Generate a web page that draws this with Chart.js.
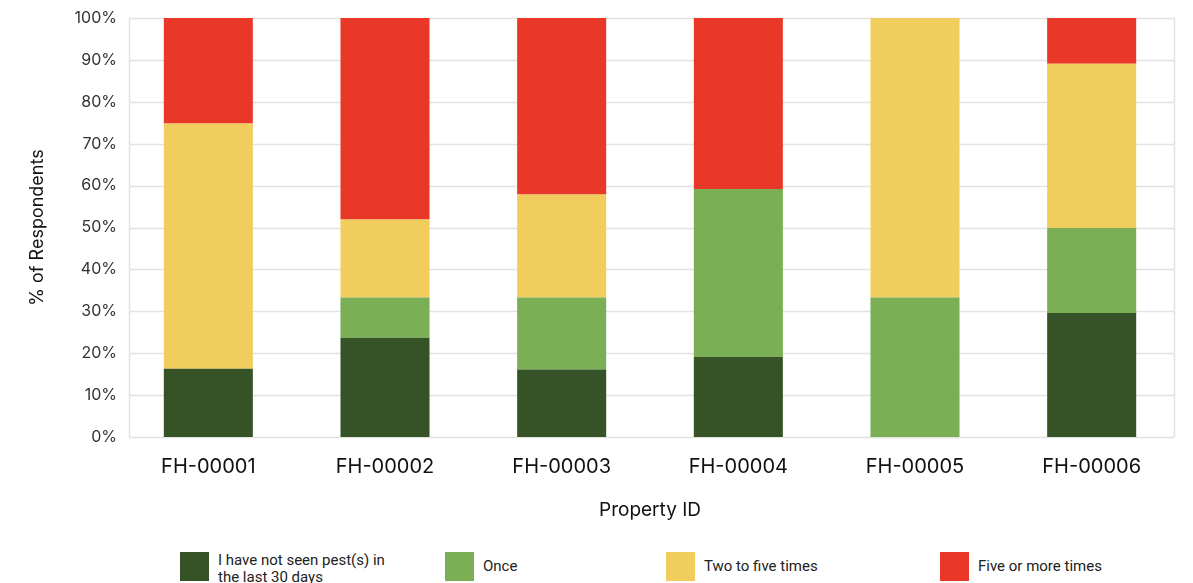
<!DOCTYPE html>
<html>
<head>
<meta charset="utf-8">
<script src="https://cdn.jsdelivr.net/npm/chart.js@4/dist/chart.umd.min.js"></script>
<style>
  html, body { margin: 0; padding: 0; background: #fff; }
  #wrap { position: relative; width: 1193px; height: 583px; overflow: hidden; }
  #c { position: absolute; left: 0; top: 0; }
  .lg { position: absolute; top: 552px; display: flex; align-items: center; font-family: Roboto, "Noto Sans", sans-serif; font-size: 15px; color: #222; }
  .lg.top { align-items: flex-start; }
  .lg .box { width: 29px; height: 29px; flex: none; }
  .lg .txt { margin-left: 9px; line-height: 17px; }
  .lg.top .txt { margin-top: 0px; width: 175px; }
</style>
</head>
<body>
<div id="wrap">
  <canvas id="c" width="1193" height="540"></canvas>
</div>
<script>
const categories = ["FH-00001", "FH-00002", "FH-00003", "FH-00004", "FH-00005", "FH-00006"];
const seriesNames = ["I have not seen pest(s) in the last 30 days", "Once", "Two to five times", "Five or more times"];
const notSeen    = [16.3, 23.7, 16.1, 19.1, 0,    29.6];
const once       = [0,    9.6,  17.2, 40.1, 33.3, 20.3];
const twoToFive  = [58.5, 18.6, 24.6, 0,    66.7, 39.2];
const fivePlus   = [25.2, 48.1, 42.1, 40.8, 0,    10.9];
const yTicks     = [0, 10, 20, 30, 40, 50, 60, 70, 80, 90, 100];

const colors = ["#355327", "#7AAF55", "#F0CD5C", "#EA3828"];
const legendLeft = [180, 445, 666, 940];

const frame = {
  id: 'frame',
  beforeDatasetsDraw(chart) {
    const { ctx, chartArea } = chart;
    const y = chart.scales.y;
    const l = chartArea.left + 9, r = chartArea.right - 6;
    ctx.save();
    ctx.strokeStyle = '#e2e2e2';
    ctx.lineWidth = 1.5;
    yTicks.forEach(v => {
      const py = Math.round(y.getPixelForValue(v)) + 0.5;
      ctx.beginPath(); ctx.moveTo(l, py); ctx.lineTo(r, py); ctx.stroke();
    });
    const t = y.getPixelForValue(100), b = y.getPixelForValue(0);
    [l, r].forEach(px => {
      ctx.beginPath(); ctx.moveTo(Math.round(px) + 0.5, t); ctx.lineTo(Math.round(px) + 0.5, b); ctx.stroke();
    });
    ctx.restore();
  }
};

const datasets = [notSeen, once, twoToFive, fivePlus].map((d, i) => ({
  label: seriesNames[i],
  data: d,
  backgroundColor: colors[i],
  borderWidth: 0,
  categoryPercentage: 1,
  barPercentage: 0.504
}));

const chart = new Chart(document.getElementById('c'), {
  type: 'bar',
  data: { labels: categories, datasets },
  options: {
    responsive: false,
    animation: false,
    devicePixelRatio: 1,
    layout: { padding: { top: 18, right: 13, left: 0, bottom: 0 } },
    plugins: { legend: { display: false }, tooltip: { enabled: false } },
    scales: {
      x: {
        stacked: true,
        grid: { display: false },
        border: { display: false },
        ticks: { color: '#111', font: { family: 'Inter', size: 20 }, padding: 10 },
        title: { display: true, text: 'Property ID', color: '#111', font: { family: 'Inter', size: 19 }, padding: { top: 14, bottom: 18 } },
        afterFit(s) { s.height = 103; }
      },
      y: {
        stacked: true,
        min: 0, max: 100,
        afterBuildTicks(s) { s.ticks = yTicks.map(v => ({ value: v })); },
        grid: { display: false, drawTicks: false },
        border: { display: false },
        ticks: { color: '#333', font: { family: 'Inter', size: 16 }, padding: 3, callback: v => v + '%' },
        title: { display: true, text: '% of Respondents', color: '#111', font: { family: 'Inter', size: 18 }, padding: { top: 27, bottom: 0 } },
        afterFit(s) { s.width = 120; }
      }
    }
  },
  plugins: [frame]
});

const wrap = document.getElementById('wrap');
chart.data.datasets.forEach((ds, i) => {
  const item = document.createElement('div');
  item.className = 'lg' + (i === 0 ? ' top' : '');
  item.style.left = legendLeft[i] + 'px';
  const box = document.createElement('div');
  box.className = 'box';
  box.style.background = ds.backgroundColor;
  const txt = document.createElement('div');
  txt.className = 'txt';
  txt.textContent = ds.label;
  item.appendChild(box); item.appendChild(txt);
  wrap.appendChild(item);
});
</script>
</body>
</html>
